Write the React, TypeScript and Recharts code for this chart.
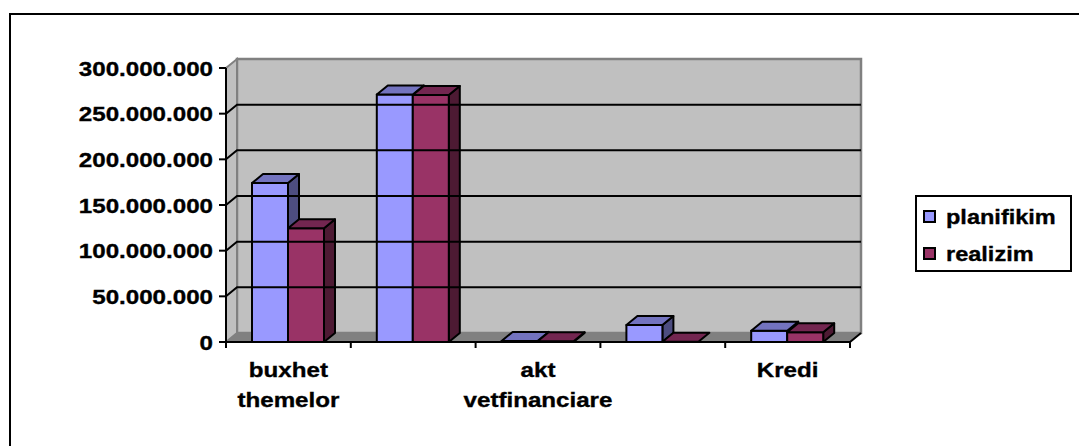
import React from 'react';
import { BarChart, Bar, XAxis, YAxis, ReferenceArea, ReferenceLine, Legend } from 'recharts';

const categories = ['buxhet themelor', '', 'akt vetfinanciare', '', 'Kredi'];
const planifikim = [174000000, 271000000, 1200000, 18600000, 12400000];
const realizim = [124500000, 270500000, 800000, 300000, 10600000];
const seriesNames = ['planifikim', 'realizim'];
const seriesColors = ['#9999FF', '#993366'];
const topColors = ['#7373BF', '#732650'];
const sideColors = ['#4D4D80', '#4D1A33'];
const yTicks = [0, 50000000, 100000000, 150000000, 200000000, 250000000, 300000000];
const gridValues = [50000000, 100000000, 150000000, 200000000, 250000000];

const data = categories.map((name, i) => ({
  name,
  planifikim: planifikim[i],
  realizim: realizim[i],
}));

const DX = 11;
const DY = -9;
const FONT = '"Liberation Sans", Arial, sans-serif';
const SX = 1.15;

const fmt = (v: number) => String(Math.round(v)).replace(/\B(?=(\d{3})+(?!\d))/g, '.');

const makeBar3D = (front: string, top: string, side: string) => (props: any) => {
  const { x, y, width, height } = props;
  const x0 = x;
  const x1 = x + width;
  const yt = y;
  const yb = y + height;
  return (
    <g stroke="#000" strokeWidth={2} strokeLinejoin="round">
      {height > 0.5 && (
        <polygon
          points={`${x1},${yt} ${x1 + DX},${yt + DY} ${x1 + DX},${yb + DY} ${x1},${yb}`}
          fill={side}
        />
      )}
      {height > 0.5 && <rect x={x0} y={yt} width={width} height={height} fill={front} />}
      <polygon
        points={`${x0},${yt} ${x0 + DX},${yt + DY} ${x1 + DX},${yt + DY} ${x1},${yt}`}
        fill={top}
      />
    </g>
  );
};

const Walls = (props: any) => {
  const { x, y, width, height } = props;
  const xl = x;
  const xr = x + width;
  const yt = y;
  const yb = y + height;
  const n = categories.length;
  const ticks = [];
  for (let i = 0; i <= n; i++) {
    const xi = xl + (width * i) / n;
    ticks.push(<line key={i} x1={xi} y1={yb} x2={xi} y2={yb + 6} stroke="#000" strokeWidth={2} />);
  }
  return (
    <g>
      <polygon
        points={`${xl + DX},${yt + DY} ${xr + DX},${yt + DY} ${xr + DX},${yb + DY} ${xl + DX},${yb + DY}`}
        fill="#C0C0C0"
        stroke="#808080"
        strokeWidth={2.5}
      />
      <polygon
        points={`${xl},${yt} ${xl + DX},${yt + DY} ${xl + DX},${yb + DY} ${xl},${yb}`}
        fill="#C0C0C0"
        stroke="#808080"
        strokeWidth={2}
      />
      <polygon
        points={`${xl},${yb} ${xl + DX},${yb + DY} ${xr + DX},${yb + DY} ${xr},${yb}`}
        fill="#808080"
      />
      <polyline
        points={`${xl},${yb} ${xr},${yb} ${xr + DX},${yb + DY}`}
        fill="none"
        stroke="#000"
        strokeWidth={2}
      />
      {ticks}
    </g>
  );
};

const GridLine3D = (p: any) => {
  const { x1, y1, x2 } = p;
  const xa = Math.min(x1, x2);
  const xb = Math.max(x1, x2);
  return (
    <polyline
      points={`${xa},${y1} ${xa + DX},${y1 + DY} ${xb + DX},${y1 + DY}`}
      fill="none"
      stroke="#000"
      strokeWidth={2}
    />
  );
};

const YTick = (props: any) => {
  const { x, y, payload } = props;
  return (
    <g transform={`translate(${x},${y})`}>
      <text
        transform={`scale(${SX},1)`}
        x={0}
        y={0}
        dy={7.5}
        textAnchor="end"
        fontFamily={FONT}
        fontWeight="bold"
        fontSize={21}
        fill="#000"
        stroke="#000"
        strokeWidth={0.35}
      >
        {fmt(payload.value)}
      </text>
    </g>
  );
};

const XTick = (props: any) => {
  const { x, y, payload } = props;
  const words = String(payload.value).split(' ').filter((w) => w.length > 0);
  return (
    <g transform={`translate(${x},${y})`}>
      {words.map((w, i) => (
        <text
          key={i}
          transform={`scale(${SX},1)`}
          x={0}
          y={27 + i * 30}
          textAnchor="middle"
          fontFamily={FONT}
          fontWeight="bold"
          fontSize={21}
          fill="#000"
          stroke="#000"
          strokeWidth={0.35}
        >
          {w}
        </text>
      ))}
    </g>
  );
};

const renderLegend = () => (
  <div
    style={{
      position: 'relative',
      boxSizing: 'border-box',
      width: 157,
      height: 77,
      border: '2px solid #000',
      background: '#fff',
      fontFamily: FONT,
      fontWeight: 'bold',
      fontSize: 21,
      color: '#000',
      WebkitTextStroke: '0.35px #000',
    }}
  >
    {seriesNames.map((n, i) => (
      <div
        key={n}
        style={{
          position: 'absolute',
          left: 6,
          top: 13 + i * 37,
          height: 13,
          display: 'flex',
          alignItems: 'flex-start',
          whiteSpace: 'nowrap',
        }}
      >
        <span
          style={{
            display: 'inline-block',
            boxSizing: 'border-box',
            width: 13,
            height: 13,
            background: seriesColors[i],
            border: '2px solid #000',
          }}
        />
        <span
          style={{
            display: 'inline-block',
            marginLeft: 10,
            lineHeight: '13px',
            height: 13,
            transform: 'scaleX(1.12)',
            transformOrigin: 'left center',
          }}
        >
          {n}
        </span>
      </div>
    ))}
  </div>
);

export default function App() {
  return (
    <div
      style={{
        position: 'absolute',
        left: 0,
        top: 0,
        width: 1079,
        height: 446,
        background: '#fff',
        overflow: 'hidden',
      }}
    >
      <div
        style={{
          position: 'absolute',
          left: 9,
          top: 13,
          width: 1100,
          height: 460,
          borderTop: '2px solid #000',
          borderLeft: '2px solid #000',
        }}
      />
      <div style={{ position: 'absolute', left: 0, top: 0 }}>
        <BarChart
          width={1079}
          height={446}
          data={data}
          margin={{ top: 68, right: 229, bottom: 34, left: 0 }}
          barGap={0}
          barSize={36}
        >
          <ReferenceArea y1={0} y2={300000000} shape={<Walls />} ifOverflow="visible" />
          {gridValues.map((v) => (
            <ReferenceLine key={v} y={v} shape={<GridLine3D />} ifOverflow="visible" />
          ))}
          <XAxis
            dataKey="name"
            height={70}
            axisLine={false}
            tickLine={false}
            tickSize={6}
            tickMargin={2}
            interval={0}
            tick={<XTick />}
          />
          <YAxis
            width={226}
            domain={[0, 300000000]}
            ticks={yTicks}
            interval={0}
            axisLine={{ stroke: '#000', strokeWidth: 2 }}
            tickLine={{ stroke: '#000', strokeWidth: 2 }}
            tickSize={7}
            tickMargin={6}
            tick={<YTick />}
          />
          <Legend
            layout="vertical"
            align="center"
            verticalAlign="middle"
            content={renderLegend}
            wrapperStyle={{ left: 915, top: 195, width: 157, height: 77 }}
          />
          {seriesNames.map((s, i) => (
            <Bar
              key={s}
              dataKey={s}
              name={s}
              fill={seriesColors[i]}
              isAnimationActive={false}
              shape={makeBar3D(seriesColors[i], topColors[i], sideColors[i])}
            />
          ))}
        </BarChart>
      </div>
    </div>
  );
}
